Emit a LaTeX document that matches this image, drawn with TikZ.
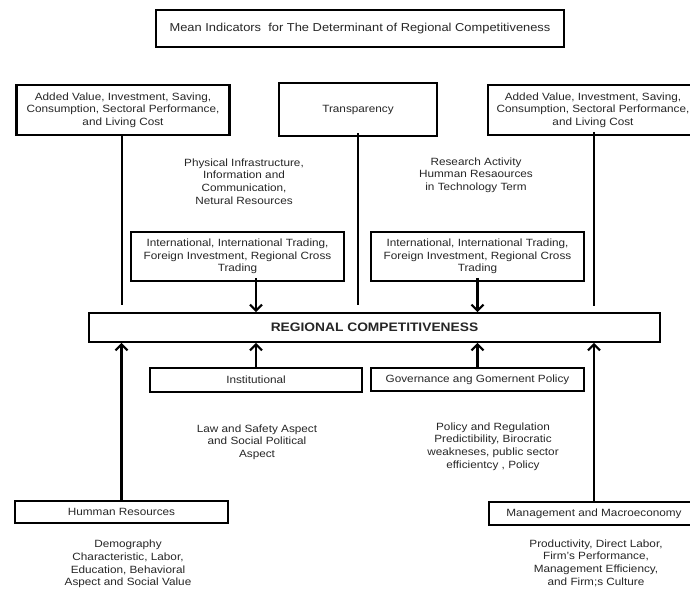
\documentclass[tikz,border=0pt]{standalone}
\usepackage{fontspec}
\setmainfont{Liberation Sans}[FakeStretch=1.12]
\usetikzlibrary{arrows.meta, positioning}

\begin{document}
\begin{tikzpicture}[x=1pt, y=-1pt,
		box/.style={draw, line width=1.6pt, align=center, inner sep=0pt, text=black!85,
			font=\fontsize{10.5}{12.7}\selectfont},
		topbox/.style={box, line width=2.3pt},
		note/.style={align=center, inner sep=0pt, text=black!85,
			font=\fontsize{10.5}{12.7}\selectfont},
		link/.style={line width=2.3pt},
		push/.style={link, -{Straight Barb[length=6pt,width=12pt,line width=2.2pt]}}]
		\useasboundingbox (0,0) rectangle (690,592);

		\node[topbox, minimum width=408pt, minimum height=37pt, font=\fontsize{11.5}{12.7}\selectfont] (title) at (360,28.5)
			{Mean Indicators \ for The Determinant of Regional Competitiveness};

		% Top row
		\node[topbox, minimum width=213pt, minimum height=50pt] (addL) at (123,110)
			{Added Value, Investment, Saving,\\Consumption, Sectoral Performance,\\and Living Cost};
		\node[topbox, minimum width=158pt, minimum height=53pt] (transp) at (358,109.5) {Transparency};
		\node[topbox, minimum width=210pt, minimum height=50pt] (addR) at (593,110)
			{Added Value, Investment, Saving,\\Consumption, Sectoral Performance,\\and Living Cost};

		\node[note] (phys) at (244,181.5)
			{Physical Infrastructure,\\Information and\\Communication,\\Netural Resources};
		\node[note] (research) at (476,175)
			{Research Activity\\Humman Resaources\\in Technology Term};

		\node[box, minimum width=213pt, minimum height=49pt] (intlL) at (237.5,256.5)
			{International, International Trading,\\Foreign Investment, Regional Cross\\Trading};
		\node[box, minimum width=213pt, minimum height=49pt] (intlR) at (477.5,256.5)
			{International, International Trading,\\Foreign Investment, Regional Cross\\Trading};

		% Centre
		\node[box, minimum width=571pt, minimum height=29pt,
			font=\fontsize{12.3}{12.7}\selectfont\bfseries] (rc) at (374.5,327.5)
			{REGIONAL COMPETITIVENESS};

		\node[box, minimum width=212pt, minimum height=24pt] (inst) at (256,380) {Institutional};
		\node[box, minimum width=213pt, minimum height=23pt] (gov) at (477.5,379.5)
			{Governance ang Gomernent Policy};

		\node[note] (law) at (257,442)
			{Law and Safety Aspect\\and Social Political\\Aspect};
		\node[note] (policy) at (493,446.5)
			{Policy and Regulation\\Predictibility, Birocratic\\weakneses, public sector\\efficientcy , Policy};

		% Bottom row
		\node[box, minimum width=213pt, minimum height=22pt] (humres) at (121.5,512) {Humman Resources};
		\node[box, minimum width=210pt, minimum height=23pt] (mgmt) at (594,513.5)
			{Management and Macroeconomy};

		\node[note] (demo) at (128,564)
			{Demography\\Characteristic, Labor,\\Education, Behavioral\\Aspect and Social Value};
		\node[note] (prod) at (596,563)
			{Productivity, Direct Labor,\\Firm's Performance,\\Management Efficiency,\\and Firm;s Culture};

		% Lines into the centre
		\coordinate (endL) at (122,305);
		\coordinate (endT) at (358,305);
		\coordinate (endR) at (594,306);
		\draw[link] (addL.south -| endL) -- (endL);
		\draw[link] ([yshift=4pt]transp.south) -- (endT);
		\draw[link] ([yshift=4pt]addR.south -| endR) -- (endR);

		\draw[push] ([yshift=4pt]intlL.south -| inst.north) -- (rc.north -| inst.north);
		\draw[push] ([yshift=4pt]intlR.south) -- (rc.north -| intlR.south);

		\draw[push] (inst.north) -- (rc.south -| inst.north);
		\draw[push] (gov.north) -- (rc.south -| gov.north);
		\draw[push] (humres.north) -- (rc.south -| humres.north);
		\draw[push] (mgmt.north -| endR) -- (rc.south -| endR);
	\end{tikzpicture}
\end{document}
